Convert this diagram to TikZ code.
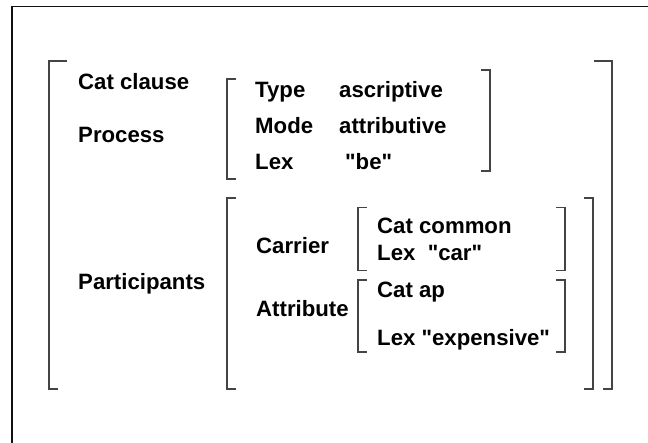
\documentclass[tikz,border=0pt]{standalone}
\usepackage{fontspec}
\setmainfont{Liberation Sans}
\usepackage{tikz}
\definecolor{AvmFrame}{HTML}{111111}
\definecolor{AvmBracket}{HTML}{444444}
\definecolor{AvmText}{HTML}{000000}
\tikzset{
  feat/.style={anchor=base west,inner sep=0pt,text=AvmText,font=\fontsize{22.2}{24}\selectfont\bfseries},
  brak/.style={AvmBracket,line width=1.4pt}
}
% left and right brackets: x, top, bottom, top tick, bottom tick
\newcommand{\lbrak}[5]{\draw[brak] (#1+#4,-#2) -- (#1,-#2) -- (#1,-#3) -- (#1+#5,-#3);}
\newcommand{\rbrak}[5]{\draw[brak] (#1-#4,-#2) -- (#1,-#2) -- (#1,-#3) -- (#1-#5,-#3);}
\newcommand{\qt}[1]{\textquotedbl#1\textquotedbl}

\begin{document}
\begin{tikzpicture}[x=1pt,y=1pt]
  \useasboundingbox (0,0) rectangle (648,-443);
  \draw[AvmFrame,line width=1.1pt] (12,-443) -- (12,-6.5) -- (648,-6.5);
  % outer matrix
  \lbrak{49}{61}{389}{18}{9}
  \rbrak{612}{61}{389}{18}{9}
  \node[feat] (catcl) at (78,-89.5) {Cat clause};
  \node[feat] (proc) at (78,-143) {Process};
  \node[feat] (part) at (78,-289.5) {Participants};
  % process
  \lbrak{227}{79}{179}{9}{9}
  \rbrak{490}{70}{171}{9}{9}
  \node[feat] (type) at (255,-98) {Type};
  \node[feat] (typev) at (339,-98) {ascriptive};
  \node[feat] (mode) at (255,-133.5) {Mode};
  \node[feat] (modev) at (339,-133.5) {attributive};
  \node[feat] (lexp) at (255,-170) {Lex};
  \node[feat] (lexpv) at (345,-170) {\qt{be}};
  % participants
  \lbrak{227}{198}{389}{9}{9}
  \rbrak{593}{198}{389}{9}{9}
  \node[feat] (carr) at (256,-253.5) {Carrier};
  \node[feat] (attr) at (256,-316.5) {Attribute};
  \lbrak{358}{207.5}{270.5}{9}{9}
  \rbrak{565}{207.5}{270.5}{9}{9}
  \node[feat] (catc) at (377,-234) {Cat common};
  \node[feat] (lexc) at (377,-261) {Lex\ \ \qt{car}};
  \lbrak{358}{280}{352}{9}{9}
  \rbrak{565}{280}{352}{9}{9}
  \node[feat] (cata) at (377,-298) {Cat ap};
  \node[feat] (lexa) at (377,-345.5) {Lex \qt{expensive}};
\end{tikzpicture}
\end{document}
